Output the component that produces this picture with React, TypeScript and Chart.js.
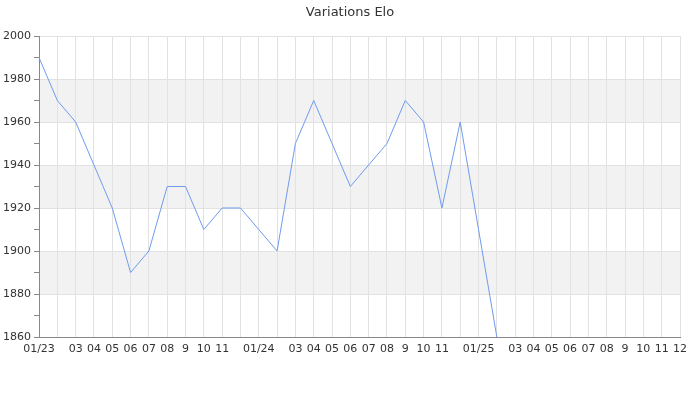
import React, { useEffect, useRef } from "react";
import { Chart, registerables } from "chart.js";

Chart.register(...registerables);

// Month tick labels (01/23 .. 12/25); empty strings are months whose label is not shown
const monthLabels: string[] = [
  "01/23", "", "03", "04", "05", "06", "07", "08", "9", "10", "11", "",
  "01/24", "", "03", "04", "05", "06", "07", "08", "9", "10", "11", "",
  "01/25", "", "03", "04", "05", "06", "07", "08", "9", "10", "11", "12",
];

// Elo value per month (null = no data yet)
const eloValues: (number | null)[] = [
  1990, 1970, 1960, 1940, 1920, 1890, 1900, 1930, 1930, 1910, 1920, 1920,
  1910, 1900, 1950, 1970, 1950, 1930, 1940, 1950, 1970, 1960, 1920, 1960,
  1910, 1860, null, null, null, null, null, null, null, null, null, null,
];

const yMin = 1860;
const yMax = 2000;
const yStep = 10;
const yLabelStep = 20;

// Shaded horizontal bands
const bandRanges: [number, number][] = [
  [1880, 1900],
  [1920, 1940],
  [1960, 1980],
];

const bandPlugin = {
  id: "bands",
  beforeDraw(chart: any) {
    const { ctx, chartArea, scales } = chart;
    const y = scales.y;
    ctx.save();
    ctx.fillStyle = "#f2f2f2";
    bandRanges.forEach(([lo, hi]) => {
      const top = y.getPixelForValue(hi);
      const bottom = y.getPixelForValue(lo);
      ctx.fillRect(chartArea.left, top, chartArea.right - chartArea.left, bottom - top);
    });
    ctx.restore();
  },
};

export default function App() {
  const canvasRef = useRef<HTMLCanvasElement | null>(null);

  useEffect(() => {
    document.body.style.margin = "0";
    const canvas = canvasRef.current;
    if (!canvas) return;
    Chart.defaults.font.family = "'DejaVu Sans', sans-serif";
    const chart = new Chart(canvas, {
      type: "line",
      data: {
        labels: monthLabels,
        datasets: [
          {
            label: "Elo",
            data: eloValues,
            borderColor: "#6f9bef",
            borderWidth: 1,
            pointRadius: 0,
            tension: 0,
            fill: false,
            yAxisID: "y",
          },
        ],
      },
      options: {
        responsive: false,
        animation: false,
        devicePixelRatio: 1,
        layout: { padding: 0 },
        plugins: {
          legend: { display: false },
          tooltip: { enabled: false },
          title: {
            display: true,
            text: "Variations Elo",
            color: "#333",
            font: { size: 13, weight: "normal" },
            padding: { top: 5, bottom: 15.4 },
          },
        },
        scales: {
          x: {
            type: "category",
            offset: false,
            grid: {
              color: "#e2e2e2",
              drawTicks: false,
            },
            border: { color: "#888", width: 1 },
            ticks: {
              autoSkip: false,
              maxRotation: 0,
              minRotation: 0,
              padding: 6,
              color: "#333",
              font: { size: 11 },
            },
            afterFit: (scale: any) => {
              scale.height = 63;
            },
          },
          y: {
            min: yMin,
            max: yMax,
            grid: {
              color: (ctx: any) =>
                ctx.tick && ctx.tick.value % yLabelStep === 0 ? "#e2e2e2" : "rgba(0,0,0,0)",
              tickColor: "#888",
              tickLength: 5,
            },
            border: { color: "#888", width: 1 },
            ticks: {
              stepSize: yStep,
              autoSkip: false,
              color: "#333",
              font: { size: 11 },
              padding: 3,
              callback: (v: any) => (Number(v) % yLabelStep === 0 ? String(v) : ""),
            },
            afterFit: (scale: any) => {
              scale.width = 39;
            },
          },
          yRightSpace: {
            position: "right",
            min: yMin,
            max: yMax,
            grid: { display: false, drawTicks: false },
            border: { display: false },
            ticks: { display: false },
            afterFit: (scale: any) => {
              scale.width = 20;
            },
          },
        },
      },
      plugins: [bandPlugin],
    });
    return () => chart.destroy();
  }, []);

  return (
    <div style={{ position: "absolute", left: 0, top: 0, width: 700, height: 400 }}>
      <canvas ref={canvasRef} width={700} height={400} />
    </div>
  );
}
